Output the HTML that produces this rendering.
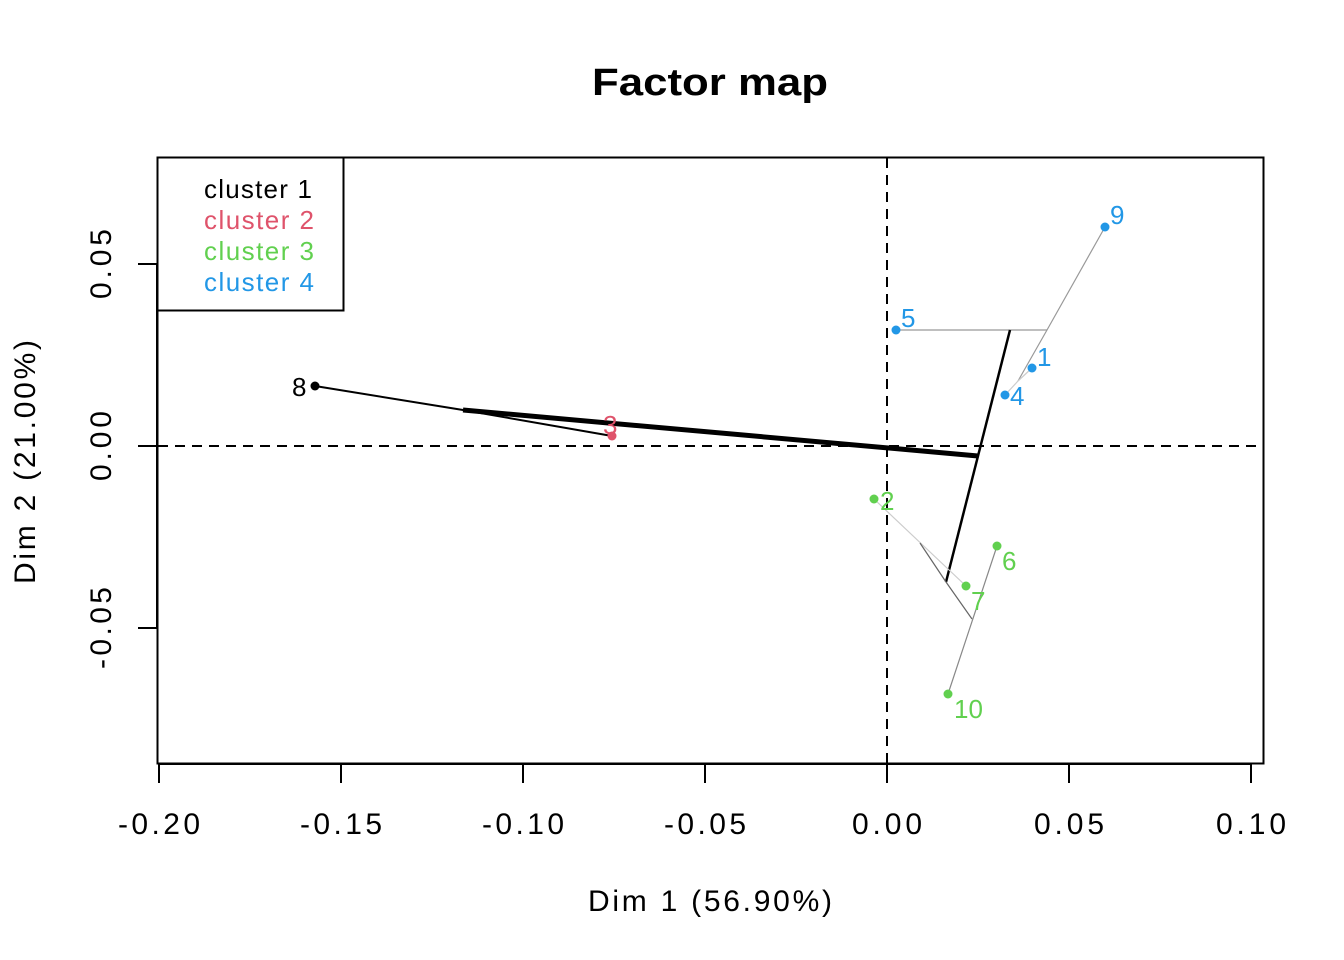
<!DOCTYPE html>
<html><head><meta charset="utf-8"><style>body{margin:0;background:#fff}svg{display:block}text{font-family:"Liberation Sans","Noto Sans CJK JP",sans-serif}</style></head><body>
<svg width="1344" height="960" viewBox="0 0 1344 960" xmlns="http://www.w3.org/2000/svg">
<rect width="1344" height="960" fill="#fff"/>
<text x="710" y="95" font-size="38" font-weight="bold" text-anchor="middle" textLength="236" lengthAdjust="spacingAndGlyphs">Factor map</text>
<rect x="157.5" y="157.5" width="1106" height="606" fill="none" stroke="#000" stroke-width="2"/>
<g stroke="#000" stroke-width="2">
<line x1="159" y1="764" x2="1251" y2="764"/>
<line x1="159" y1="764" x2="159" y2="783"/><line x1="341" y1="764" x2="341" y2="783"/><line x1="523" y1="764" x2="523" y2="783"/><line x1="705" y1="764" x2="705" y2="783"/><line x1="887" y1="764" x2="887" y2="783"/><line x1="1069" y1="764" x2="1069" y2="783"/><line x1="1251" y1="764" x2="1251" y2="783"/>
<line x1="157" y1="264" x2="157" y2="628"/>
<line x1="157" y1="264" x2="138" y2="264"/><line x1="157" y1="446" x2="138" y2="446"/><line x1="157" y1="628" x2="138" y2="628"/>
</g>
<g font-size="30" text-anchor="middle" fill="#000" lengthAdjust="spacingAndGlyphs">
<text x="159" y="834" textLength="82">-0.20</text><text x="341" y="834" textLength="82">-0.15</text><text x="523" y="834" textLength="82">-0.10</text><text x="705" y="834" textLength="82">-0.05</text><text x="887" y="834" textLength="70">0.00</text><text x="1069" y="834" textLength="70">0.05</text><text x="1251" y="834" textLength="70">0.10</text>
<text transform="translate(111,264) rotate(-90)" textLength="70">0.05</text>
<text transform="translate(111,446) rotate(-90)" textLength="70">0.00</text>
<text transform="translate(111,628) rotate(-90)" textLength="82">-0.05</text>
<text x="710" y="911" textLength="244">Dim 1 (56.90%)</text>
<text transform="translate(35,462) rotate(-90)" textLength="244">Dim 2 (21.00%)</text>
</g>
<g stroke="#000" stroke-width="2" stroke-dasharray="10,7">
<line x1="887" y1="158" x2="887" y2="763"/>
<line x1="158" y1="446" x2="1263" y2="446"/>
</g>
<g fill="none">
<line x1="896" y1="330" x2="1047" y2="330" stroke="#999" stroke-width="1.2"/>
<polyline points="1105,227 1047,330 1018,381" stroke="#999" stroke-width="1.2"/>
<line x1="1005" y1="395" x2="1018" y2="381" stroke="#ccc" stroke-width="1.2"/>
<line x1="1032" y1="368" x2="1018" y2="381" stroke="#ccc" stroke-width="1.2"/>
<polyline points="1010,330 978,456 946,582" stroke="#000" stroke-width="2.5"/>
<line x1="874" y1="499" x2="966" y2="586" stroke="#ccc" stroke-width="1.2"/>
<polyline points="920,543 946,582 972,619" stroke="#666" stroke-width="1.2"/>
<line x1="997" y1="546" x2="948" y2="694" stroke="#888" stroke-width="1.2"/>
<polyline points="315,386 463,410 612,436" stroke="#000" stroke-width="2"/>
<line x1="463" y1="410" x2="978" y2="456" stroke="#000" stroke-width="5"/>
</g>
<g>
<circle cx="315" cy="386" r="4.5" fill="#000"/>
<circle cx="612" cy="436" r="4.5" fill="#DF536B"/>
<circle cx="874" cy="499" r="4.5" fill="#61D04F"/>
<circle cx="997" cy="546" r="4.5" fill="#61D04F"/>
<circle cx="966" cy="586" r="4.5" fill="#61D04F"/>
<circle cx="948" cy="694" r="4.5" fill="#61D04F"/>
<circle cx="1105" cy="227" r="4.5" fill="#2297E6"/>
<circle cx="896" cy="330" r="4.5" fill="#2297E6"/>
<circle cx="1032" cy="368" r="4.5" fill="#2297E6"/>
<circle cx="1005" cy="395" r="4.5" fill="#2297E6"/>
</g>
<g font-size="26">
<text x="292" y="396" fill="#000">8</text>
<text x="603" y="434" fill="#DF536B">3</text>
<text x="880" y="510" fill="#61D04F">2</text>
<text x="1002" y="570" fill="#61D04F">6</text>
<text x="971" y="610" fill="#61D04F">7</text>
<text x="954" y="718" fill="#61D04F">10</text>
<text x="1110" y="224" fill="#2297E6">9</text>
<text x="901" y="327" fill="#2297E6">5</text>
<text x="1037" y="366" fill="#2297E6">1</text>
<text x="1010" y="405" fill="#2297E6">4</text>
</g>
<rect x="157.5" y="157.5" width="186" height="153" fill="#fff" stroke="#000" stroke-width="2"/>
<g font-size="26" lengthAdjust="spacingAndGlyphs">
<text x="204" y="198" fill="#000" textLength="108">cluster 1</text>
<text x="204" y="229" fill="#DF536B" textLength="110">cluster 2</text>
<text x="204" y="260" fill="#61D04F" textLength="110">cluster 3</text>
<text x="204" y="291" fill="#2297E6" textLength="110">cluster 4</text>
</g>
</svg>
</body></html>
